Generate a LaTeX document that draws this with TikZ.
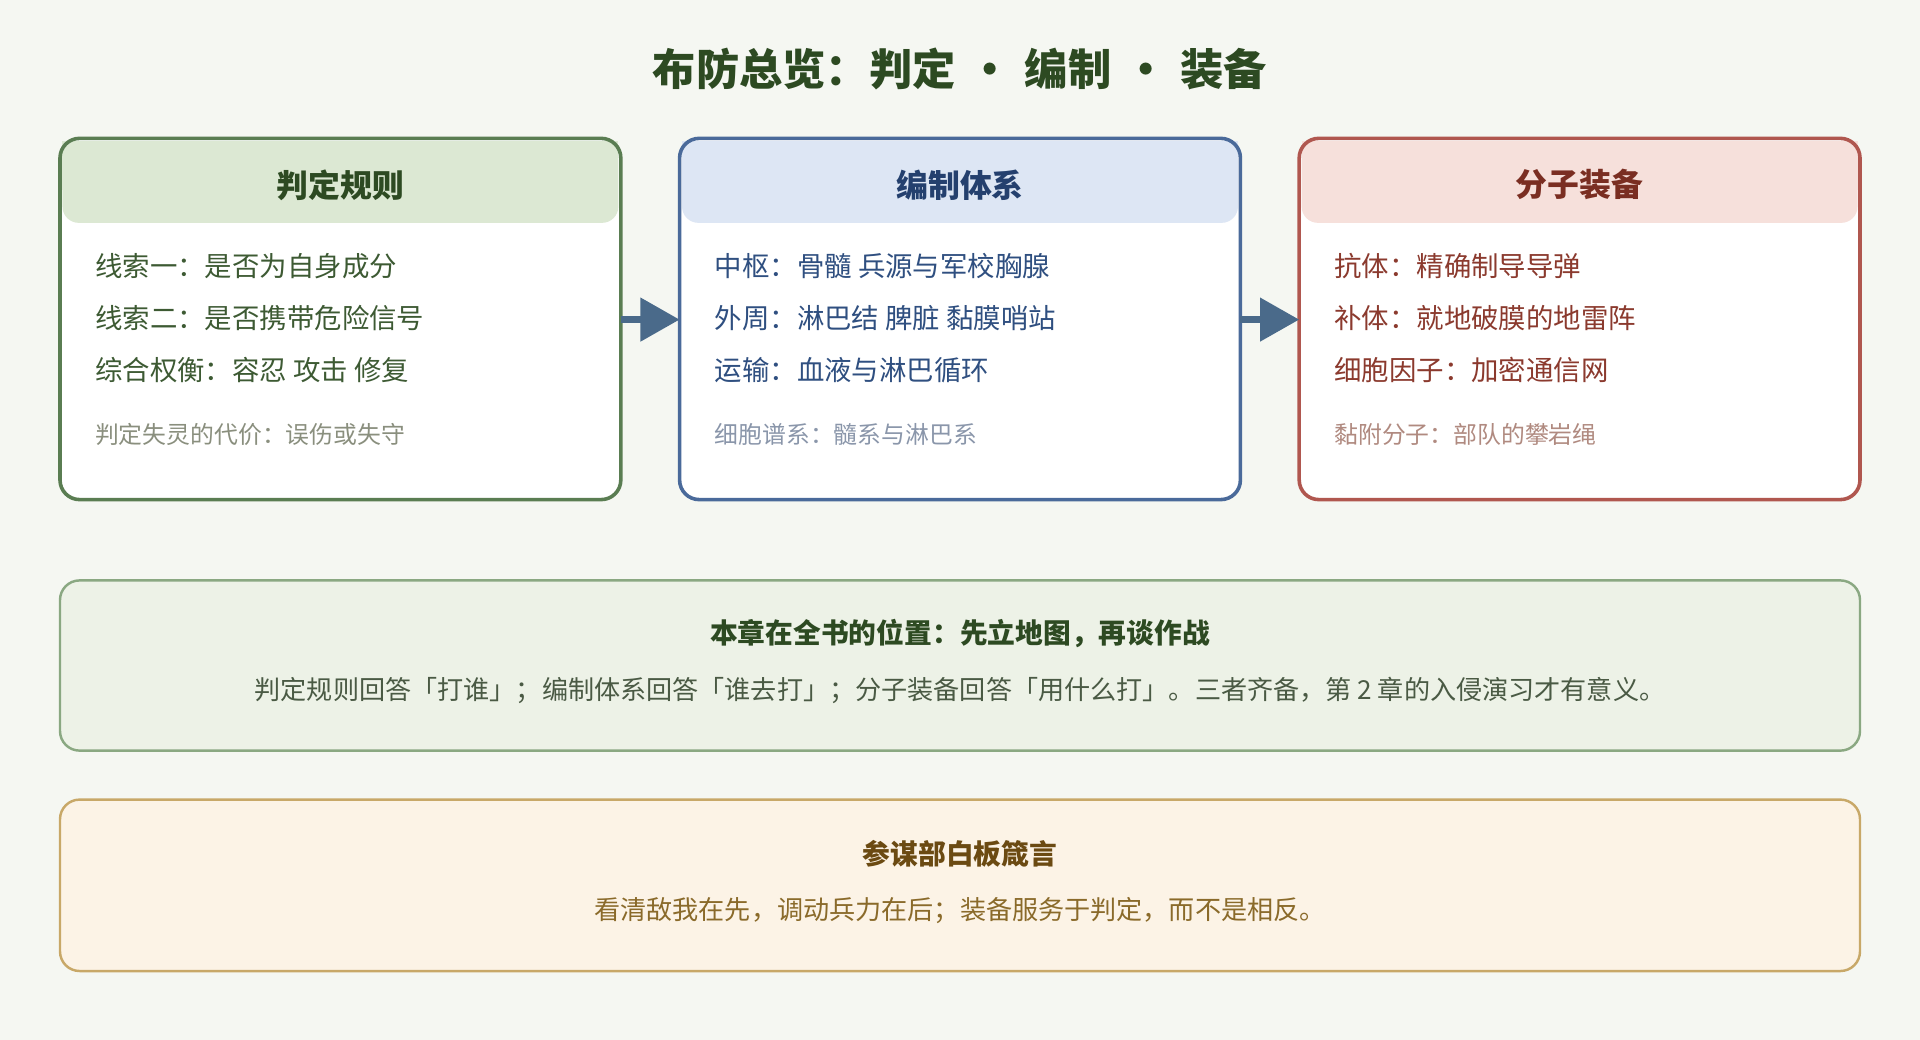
\documentclass[tikz,border=0pt]{standalone}
\usepackage{fontspec}
\setmainfont{Noto Sans CJK SC}
\usetikzlibrary{arrows.meta}
\definecolor{bg}{HTML}{F5F7F2}
\definecolor{gB}{HTML}{5A7D52}\definecolor{gH}{HTML}{DCE8D3}\definecolor{gT}{HTML}{2D4A22}\definecolor{gX}{HTML}{3D5A33}\definecolor{gG}{HTML}{8A8F7E}
\definecolor{bB}{HTML}{4A6A9A}\definecolor{bH}{HTML}{DDE6F4}\definecolor{bT}{HTML}{24406E}\definecolor{bX}{HTML}{2F4F80}\definecolor{bG}{HTML}{8A96AA}
\definecolor{rB}{HTML}{B0574F}\definecolor{rH}{HTML}{F6E0DB}\definecolor{rT}{HTML}{7A2E22}\definecolor{rX}{HTML}{8B3A2E}\definecolor{rG}{HTML}{B08A80}
\definecolor{sF}{HTML}{EDF2E7}\definecolor{sB}{HTML}{8AA882}\definecolor{sX}{HTML}{4A5A44}
\definecolor{yF}{HTML}{FCF3E6}\definecolor{yB}{HTML}{C8A868}\definecolor{yT}{HTML}{6B4A12}\definecolor{yX}{HTML}{8A6A2A}
\definecolor{arr}{HTML}{4A6A8A}
\begin{document}
\begin{tikzpicture}[x=0.75pt,y=-0.75pt,
 body/.style={anchor=west,font=\fontsize{16.8}{18}\selectfont},
 small/.style={anchor=west,font=\fontsize{14.6}{16}\selectfont},
 head/.style={font=\bfseries\fontsize{19.5}{22}\selectfont},
 link/.style={line width=4pt,color=arr,-{Triangle[length=24pt,width=26pt]}}]
\fill[bg] (0,0) rectangle (1568,849);
\useasboundingbox (0,0) rectangle (1568,849);
\node[font=\bfseries\fontsize{26.5}{30}\selectfont,text=gT] (title) at (784,56) {布防总览：判定\hspace{0.3em}•\hspace{0.3em}编制\hspace{0.3em}•\hspace{0.3em}装备};
\foreach \x/\c/\t/\a/\b/\cc/\g [count=\i] in {49/g/判定规则/线索一：是否为自身成分/线索二：是否携带危险信号/综合权衡：容忍 攻击 修复/判定失灵的代价：误伤或失守,
 555/b/编制体系/中枢：骨髓 兵源与军校胸腺/外周：淋巴结 脾脏 黏膜哨站/运输：血液与淋巴循环/细胞谱系：髓系与淋巴系,
 1061/r/分子装备/抗体：精确制导导弹/补体：就地破膜的地雷阵/细胞因子：加密通信网/黏附分子：部队的攀岩绳}{
 \fill[white,rounded corners=12pt] (\x,113) rectangle +(458,295);
 \fill[\c H,rounded corners=10pt] (\x+2,115) rectangle +(454,67);
 \fill[\c H] (\x+2,115) rectangle +(454,40);
 \draw[\c B,line width=2.2pt,rounded corners=12pt] (\x,113) rectangle +(458,295);
 \coordinate (box\i) at (\x,261);
 \coordinate (boxr\i) at (\x+458,261);
 \node[head,text=\c T] (h\i) at (\x+229,151) {\t};
 \node[body,text=\c X] (a\i) at (\x+24,217) {\a};
 \node[body,text=\c X] (b\i) at (\x+24,260) {\b};
 \node[body,text=\c X] (c\i) at (\x+24,302) {\cc};
 \node[small,text=\c G] (d\i) at (\x+24,355) {\g};
}
\draw[link] (boxr1) -- (box2);
\draw[link] (boxr2) -- (box3);
\draw[sB,fill=sF,line width=1.5pt,rounded corners=12pt] (49,474) rectangle (1519,613);
\node[font=\bfseries\fontsize{17}{20}\selectfont,text=gT] (p1) at (784,517) {本章在全书的位置：先立地图，再谈作战};
\node[font=\fontsize{16}{18}\selectfont,text=sX] (p2) at (784,564) {判定规则回答「打谁」；编制体系回答「谁去打」；分子装备回答「用什么打」。三者齐备，第 2 章的入侵演习才有意义。};
\draw[yB,fill=yF,line width=1.5pt,rounded corners=12pt] (49,653) rectangle (1519,793);
\node[font=\bfseries\fontsize{17}{20}\selectfont,text=yT] (q1) at (784,697) {参谋部白板箴言};
\node[font=\fontsize{16}{18}\selectfont,text=yX] (q2) at (784,744) {看清敌我在先，调动兵力在后；装备服务于判定，而不是相反。};
\end{tikzpicture}
\end{document}
